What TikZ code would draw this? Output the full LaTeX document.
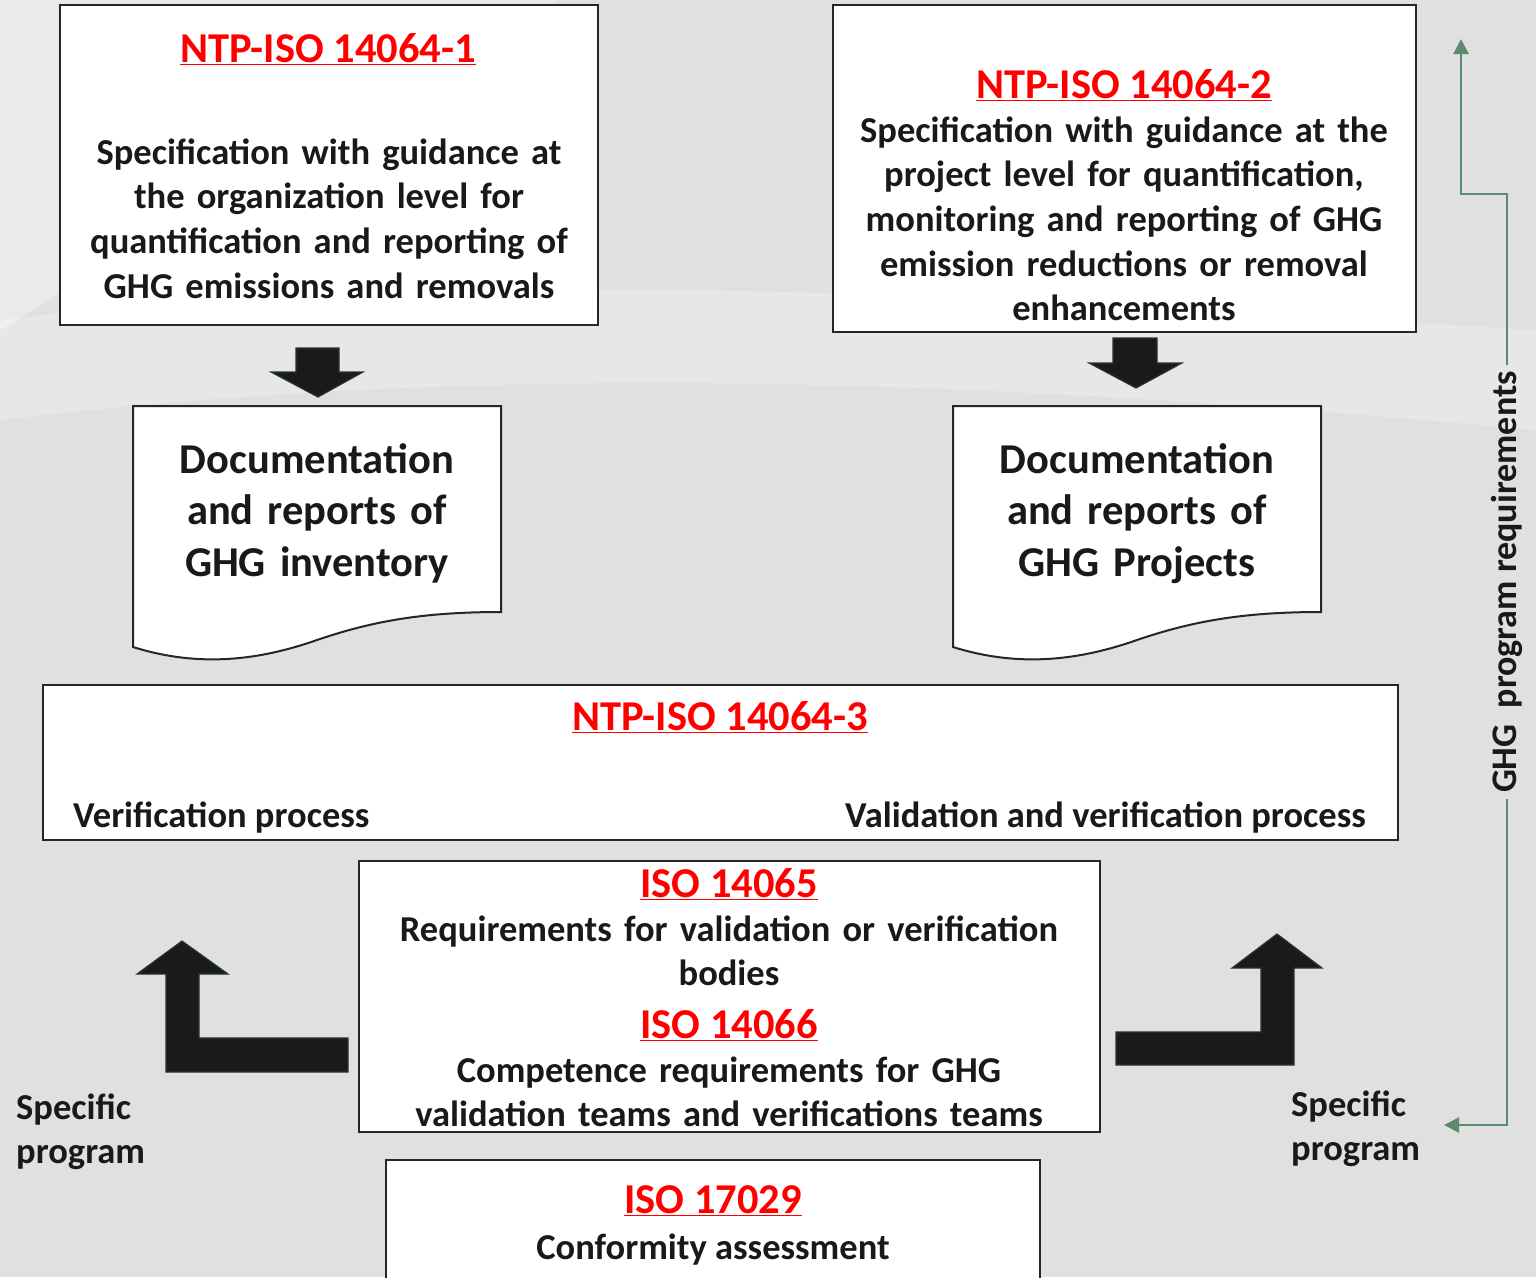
\documentclass[tikz,border=0pt]{standalone}
\usepackage{fontspec}
\setmainfont{Carlito}
\usetikzlibrary{positioning,arrows.meta}
\definecolor{bggray}{RGB}{224,224,224}
\definecolor{stdred}{RGB}{255,0,0}
\definecolor{reqgreen}{RGB}{92,138,108}
\definecolor{arrowfill}{RGB}{26,26,26}
\definecolor{arrowedge}{RGB}{38,56,42}
\tikzstyle{box}=[draw=black!85,fill=white,line width=2pt]
\tikzstyle{stdtitle}=[font=\fontsize{42.5}{48}\selectfont\bfseries,text=stdred,inner sep=0pt,anchor=base]
\tikzstyle{body}=[font=\fontsize{36.5}{44.7}\selectfont\bfseries,text=black!90,align=center,inner sep=0pt,anchor=base]
\tikzstyle{doctext}=[font=\fontsize{42.5}{51.5}\selectfont\bfseries,text=black!90,align=center,inner sep=0pt,anchor=base]
\tikzstyle{blockarrow}=[fill=arrowfill,draw=arrowedge,line width=1.2pt]
\tikzstyle{reqline}=[draw=reqgreen,line width=2.2pt,-{Triangle[width=15pt,length=15pt]}]
\newcommand{\stdname}[1]{\underline{#1}}

\begin{document}
\begin{tikzpicture}[x=1pt,y=-1pt]
  \useasboundingbox (0,0) rectangle (1536,1277);
  \clip (0,0) rectangle (1536,1277);
  \fill[bggray] (0,0) rectangle (1536,1277);
  \fill[white,opacity=0.35] (0,0) -- (560,0) .. controls (300,120) and (120,260) .. (0,330) -- cycle;
  \fill[white,opacity=0.25] (0,320) .. controls (500,260) and (1000,300) .. (1536,330) -- (1536,430) .. controls (1000,380) and (500,360) .. (0,420) -- cycle;

  % upper standards
  \node[box,minimum width=538,minimum height=320] (iso1) at (329,165) {};
  \node[stdtitle] (iso1title) at (328,62) {\stdname{NTP-ISO 14064-1}};
  \node[body,text width=520] (iso1text) at (329,164) {Specification with guidance at\\the organization level for\\quantification and reporting of\\GHG emissions and removals};

  \node[box,minimum width=583,minimum height=327] (iso2) at (1124.5,168.5) {};
  \node[stdtitle] (iso2title) at (1124,98) {\stdname{NTP-ISO 14064-2}};
  \node[body,text width=570] (iso2text) at (1124,142) {Specification with guidance at the\\project level for quantification,\\monitoring and reporting of GHG\\emission reductions or removal\\enhancements};

  % block arrows down
  \draw[blockarrow] (296,348) -- (339,348) -- (339,372) -- (363,372) -- (318,397) -- (271,372) -- (296,372) -- cycle;
  \draw[blockarrow] (1113,338) -- (1157,338) -- (1157,363) -- (1182,363) -- (1136,388) -- (1089,363) -- (1113,363) -- cycle;

  % documents
  \draw[box] (133,406) -- (501,406) -- (501,612) .. controls (420,612) and (370,622) .. (317,640) .. controls (260,660) and (200,668) .. (133,647) -- cycle;
  \node[doctext,text width=360] (doc1) at (317,473) {Documentation\\and reports of\\GHG inventory};
  \draw[box] (953,406) -- (1321,406) -- (1321,612) .. controls (1240,612) and (1190,622) .. (1137,640) .. controls (1080,660) and (1020,668) .. (953,647) -- cycle;
  \node[doctext,text width=360] (doc2) at (1137,473) {Documentation\\and reports of\\GHG Projects};

  % verification
  \node[box,minimum width=1355,minimum height=155] (iso3) at (720.5,762.5) {};
  \node[stdtitle] (iso3title) at (720,730) {\stdname{NTP-ISO 14064-3}};
  \node[body,anchor=base west] (verif) at (73,827) {Verification process};
  \node[body,anchor=base east] (valid) at (1366,827) {Validation and verification process};

  \node[box,minimum width=741,minimum height=271] (iso65) at (729.5,996.5) {};
  \node[stdtitle] (iso65title) at (729,897) {\stdname{ISO 14065}};
  \node[body,text width=720] (iso65text) at (729,941) {Requirements for validation or verification\\bodies};
  \node[stdtitle] (iso66title) at (729,1038) {\stdname{ISO 14066}};
  \node[body,text width=720] (iso66text) at (729,1082) {Competence requirements for GHG\\validation teams and verifications teams};

  \node[box,minimum width=654,minimum height=140] (iso17) at (713,1230) {};
  \node[stdtitle] (iso17title) at (713,1213) {\stdname{ISO 17029}};
  \node[body] (iso17text) at (713,1259) {Conformity assessment};

  % specific programs
  \draw[blockarrow] (166,1072) -- (348,1072) -- (348,1038) -- (199,1038) -- (199,974) -- (228,974) -- (182,941) -- (137,974) -- (166,974) -- cycle;
  \draw[blockarrow] (1116,1032) -- (1261,1032) -- (1261,968) -- (1232,968) -- (1277,934) -- (1322,968) -- (1294,968) -- (1294,1065) -- (1116,1065) -- cycle;
  \node[body,align=left,text width=200,anchor=base west] (specleft) at (16,1119) {Specific\\program};
  \node[body,align=left,text width=200,anchor=base west] (specright) at (1291,1116) {Specific\\program};

  % program requirements
  \node[font=\fontsize{36}{40}\selectfont\bfseries,text=black!90,rotate=90,inner sep=6pt] (ghgreq) at (1507,582) {GHG\ \ program requirements};
  \coordinate (reqtop) at (1461,39);
  \coordinate (reqbot) at (1444,1125);
  \draw[reqline] (ghgreq.east) |- (1461,194) -- (reqtop);
  \draw[reqline] (ghgreq.west) |- (reqbot);
\end{tikzpicture}
\end{document}
